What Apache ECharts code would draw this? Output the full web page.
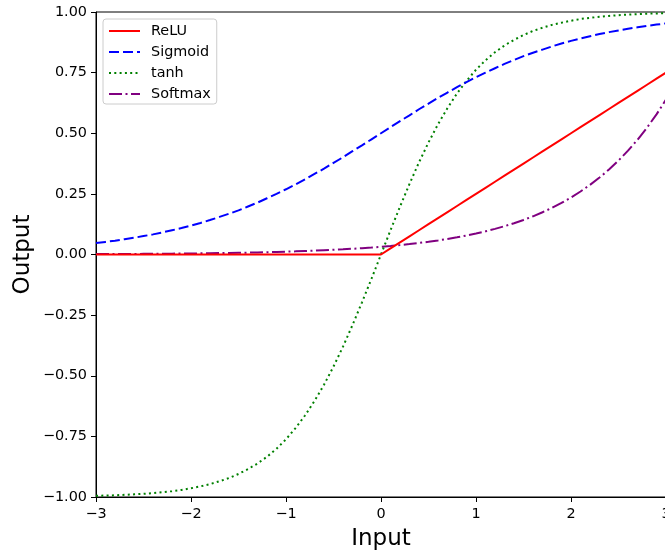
<!DOCTYPE html>
<html><head><meta charset="utf-8">
<script src="https://cdn.jsdelivr.net/npm/echarts@6/dist/echarts.min.js"></script>
<style>html,body{margin:0;padding:0;background:#fff;overflow:hidden}#c{width:665px;height:554px}</style>
</head><body><div id="c"></div>
<script>
const xs = [-3.0,-2.9,-2.8,-2.7,-2.6,-2.5,-2.4,-2.3,-2.2,-2.1,-2.0,-1.9,-1.8,-1.7,-1.6,-1.5,-1.4,-1.3,-1.2,-1.1,-1.0,-0.9,-0.8,-0.7,-0.6,-0.5,-0.4,-0.3,-0.2,-0.1,0.0,0.1,0.2,0.3,0.4,0.5,0.6,0.7,0.8,0.9,1.0,1.1,1.2,1.3,1.4,1.5,1.6,1.7,1.8,1.9,2.0,2.1,2.2,2.3,2.4,2.5,2.6,2.7,2.8,2.9,3.0];
const relu = [0,0,0,0,0,0,0,0,0,0,0,0,0,0,0,0,0,0,0,0,0,0,0,0,0,0,0,0,0,0,0,0.025,0.05,0.075,0.1,0.125,0.15,0.175,0.2,0.225,0.25,0.275,0.3,0.325,0.35,0.375,0.4,0.425,0.45,0.475,0.5,0.525,0.55,0.575,0.6,0.625,0.65,0.675,0.7,0.725,0.75];
const sigmoid = [0.047,0.052,0.057,0.063,0.069,0.076,0.083,0.091,0.100,0.109,0.119,0.130,0.142,0.155,0.168,0.182,0.198,0.214,0.232,0.250,0.269,0.289,0.310,0.332,0.354,0.378,0.401,0.426,0.450,0.475,0.500,0.525,0.550,0.574,0.599,0.622,0.646,0.668,0.690,0.711,0.731,0.750,0.768,0.786,0.802,0.818,0.832,0.845,0.858,0.870,0.881,0.891,0.900,0.909,0.917,0.924,0.931,0.937,0.943,0.948,0.953];
const tanh = [-0.995,-0.994,-0.993,-0.991,-0.989,-0.987,-0.984,-0.980,-0.976,-0.971,-0.964,-0.956,-0.947,-0.935,-0.922,-0.905,-0.885,-0.862,-0.834,-0.801,-0.762,-0.716,-0.664,-0.604,-0.537,-0.462,-0.380,-0.291,-0.197,-0.100,0.000,0.100,0.197,0.291,0.380,0.462,0.537,0.604,0.664,0.716,0.762,0.801,0.834,0.862,0.885,0.905,0.922,0.935,0.947,0.956,0.964,0.971,0.976,0.980,0.984,0.987,0.989,0.991,0.993,0.994,0.995];
const softmax = [0.0016,0.0018,0.0019,0.0021,0.0024,0.0026,0.0029,0.0032,0.0035,0.0039,0.0043,0.0048,0.0053,0.0058,0.0064,0.0071,0.0078,0.0087,0.0096,0.0106,0.0117,0.0129,0.0143,0.0158,0.0175,0.0193,0.0213,0.0236,0.0260,0.0288,0.0318,0.0352,0.0388,0.0429,0.0474,0.0524,0.0579,0.0640,0.0708,0.0782,0.0864,0.0955,0.1056,0.1167,0.1290,0.1425,0.1575,0.1741,0.1924,0.2126,0.2350,0.2597,0.2870,0.3172,0.3505,0.3874,0.4282,0.4732,0.5229,0.5779,0.6387];
const seriesNames = ['ReLU','Sigmoid','tanh','Softmax'];
const xTicks = [-3,-2,-1,0,1,2,3];
const yTicks = [-1,-0.75,-0.5,-0.25,0,0.25,0.5,0.75,1];

const pair = arr => xs.map((x,i)=>[x,arr[i]]);
const minus = s => s.replace('-', '\u2212');
const FONT = 'DejaVu Sans';
const chart = echarts.init(document.getElementById('c'), null, {renderer:'canvas'});
const mk = (name, data, color, type, z) => ({
  name, type:'line', data: pair(data), showSymbol:false, symbol:'none', z,
  lineStyle:{color, width:2, type},
  itemStyle:{color}, animation:false
});
chart.setOption({
  animation:false,
  textStyle:{fontFamily:FONT},
  grid:{left:96, top:12, width:570, height:485, show:true, borderColor:'#000', borderWidth:1,
        containLabel:false, outerBoundsMode:'none'},
  legend:{
    orient:'vertical', left:103, top:19,
    data: seriesNames,
    backgroundColor:'#fff', borderColor:'#cccccc', borderWidth:1, borderRadius:3,
    padding:[5,6,3,5], itemGap:7, itemWidth:31, itemHeight:14,
    itemStyle:{opacity:0},
    textStyle:{fontFamily:FONT, fontSize:14.4, color:'#000', padding:[0,0,0,6]}
  },
  xAxis:{
    type:'value', min:xTicks[0], max:xTicks[xTicks.length-1], interval:1,
    name:'Input', nameLocation:'middle', nameGap:31, nameMoveOverlap:false,
    nameTextStyle:{fontFamily:FONT, fontSize:23, color:'#000'},
    axisLine:{show:true, lineStyle:{color:'#000', width:1}, onZero:false},
    axisTick:{show:true, length:5, lineStyle:{color:'#000'}},
    axisLabel:{fontFamily:FONT, fontSize:14.4, color:'#000', margin:10, hideOverlap:false, formatter:v=>minus(String(v))},
    splitLine:{show:false}
  },
  yAxis:{
    type:'value', min:yTicks[0], max:yTicks[yTicks.length-1], interval:0.25,
    name:'Output', nameLocation:'middle', nameGap:61, nameMoveOverlap:false,
    nameTextStyle:{fontFamily:FONT, fontSize:23, color:'#000'},
    axisLine:{show:true, lineStyle:{color:'#000', width:1}, onZero:false},
    axisTick:{show:true, length:5, lineStyle:{color:'#000'}},
    axisLabel:{fontFamily:FONT, fontSize:14.4, color:'#000', margin:9, formatter:v=>minus(v.toFixed(2))},
    splitLine:{show:false}
  },
  series:[
    mk(seriesNames[0], relu, '#ff0000', 'solid', 4),
    mk(seriesNames[1], sigmoid, '#0000ff', [10,4], 3),
    mk(seriesNames[2], tanh, '#008000', [2,3.3], 2),
    mk(seriesNames[3], softmax, '#800080', [13,3.5,2,3.5], 1)
  ]
});
</script></body></html>
